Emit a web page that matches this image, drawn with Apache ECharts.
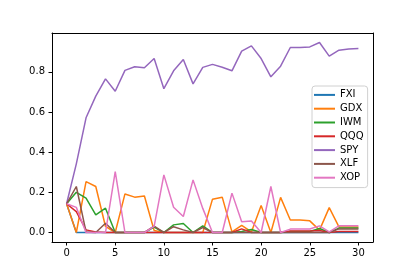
<!DOCTYPE html>
<html>
<head>
<meta charset="utf-8">
<script src="https://cdn.jsdelivr.net/npm/echarts@6/dist/echarts.min.js"></script>
<style>
html,body{margin:0;padding:0;background:#fff;}
#chart{width:415px;height:277px;}
</style>
</head>
<body>
<div id="chart"></div>
<script>
var seriesNames = ['FXI','GDX','IWM','QQQ','SPY','XLF','XOP'];
var xTicks = [0,5,10,15,20,25,30];
var yTicks = [0,0.2,0.4,0.6,0.8];

var FXI = [0.143,0,0,0,0,0,0,0,0,0,0,0,0,0,0,0,0,0,0,0,0,0,0,0,0,0,0,0,0,0,0];
var GDX = [0.143,0,0.253,0.229,0.03,0,0.192,0.176,0.182,0.01,0,0,0,0,0,0.166,0.176,0.003,0.036,0.003,0.134,0,0.175,0.062,0.062,0.058,0.012,0.124,0.028,0.028,0.028];
var IWM = [0.143,0.2,0.171,0.088,0.121,0,0,0,0,0.027,0,0.038,0.045,0,0.033,0,0,0,0.005,0.015,0,0,0,0.005,0.005,0.005,0.02,0,0.022,0.022,0.022];
var QQQ = [0.143,0.104,0.013,0.003,0,0,0,0,0,0,0,0,0,0,0,0,0,0,0.018,0,0,0,0,0.008,0.008,0.008,0.01,0,0.005,0.005,0.005];
var SPY = [0.143,0.342,0.571,0.679,0.765,0.703,0.807,0.825,0.82,0.866,0.716,0.805,0.861,0.74,0.822,0.837,0.823,0.805,0.903,0.929,0.866,0.775,0.828,0.921,0.921,0.924,0.946,0.878,0.908,0.914,0.916];
var XLF = [0.143,0.229,0.003,0,0.046,0,0,0,0,0.032,0,0.029,0.013,0,0.025,0,0,0,0,0,0,0,0,0,0,0,0,0,0.018,0.018,0.018];
var XOP = [0.143,0.125,0,0,0,0.303,0,0,0,0.03,0.287,0.126,0.08,0.262,0.12,0,0,0.196,0.053,0.057,0,0.229,0,0.017,0.017,0.017,0.033,0.003,0.033,0.033,0.033];

var values = [FXI,GDX,IWM,QQQ,SPY,XLF,XOP];
var colors = ['#1f77b4','#ff7f0e','#2ca02c','#d62728','#9467bd','#8c564b','#e377c2'];

var series = seriesNames.map(function(name, k){
  return {
    name: name,
    type: 'line',
    showSymbol: false,
    symbol: 'none',
    animation: false,
    lineStyle: {width: 1.5, color: colors[k]},
    itemStyle: {color: colors[k]},
    data: values[k].map(function(v, i){ return [i, v]; })
  };
});

var chart = echarts.init(document.getElementById('chart'), null, {renderer: 'canvas'});
chart.setOption({
  animation: false,
  backgroundColor: '#fff',
  textStyle: {fontFamily: 'DejaVu Sans'},
  grid: {left: 52, right: 42, top: 33, bottom: 35, show: false},
  xAxis: [{
    type: 'value', min: -1.5, max: 31.5, position: 'bottom',
    axisLine: {show: true, onZero: false, lineStyle: {color: '#000', width: 1}},
    splitLine: {show: false},
    axisTick: {show: true, inside: false, length: 3.5, customValues: xTicks, lineStyle: {color: '#000', width: 1}},
    axisLabel: {show: true, customValues: xTicks, margin: 6, color: '#000', fontSize: 10, fontFamily: 'DejaVu Sans'}
  },{
    type: 'value', min: -1.5, max: 31.5, position: 'top',
    axisLine: {show: true, onZero: false, lineStyle: {color: '#000', width: 1}},
    splitLine: {show: false}, axisTick: {show: false}, axisLabel: {show: false}
  }],
  yAxis: [{
    type: 'value', min: -0.0473, max: 0.9933, position: 'left',
    axisLine: {show: true, onZero: false, lineStyle: {color: '#000', width: 1}},
    splitLine: {show: false},
    axisTick: {show: true, inside: false, length: 3.5, customValues: yTicks, lineStyle: {color: '#000', width: 1}},
    axisLabel: {show: true, customValues: yTicks, margin: 7, color: '#000', fontSize: 10, fontFamily: 'DejaVu Sans',
      formatter: function(v){ return v.toFixed(1); }}
  },{
    type: 'value', min: -0.0473, max: 0.9933, position: 'right',
    axisLine: {show: true, onZero: false, lineStyle: {color: '#000', width: 1}},
    splitLine: {show: false}, axisTick: {show: false}, axisLabel: {show: false}
  }],
  legend: {
    orient: 'vertical',
    left: 312, top: 86,
    data: seriesNames.map(function(n){ return {name: n, icon: 'rect'}; }),
    itemWidth: 21, itemHeight: 2, itemGap: 0, itemTextGap: 7,
    padding: [2, 4, 3, 2],
    backgroundColor: 'rgba(255,255,255,0.8)',
    borderColor: '#d0d0d0', borderWidth: 1, borderRadius: 3,
    textStyle: {color: '#000', fontSize: 10, fontFamily: 'DejaVu Sans', lineHeight: 13.8, height: 13.8}
  },
  series: series
});
</script>
</body>
</html>
